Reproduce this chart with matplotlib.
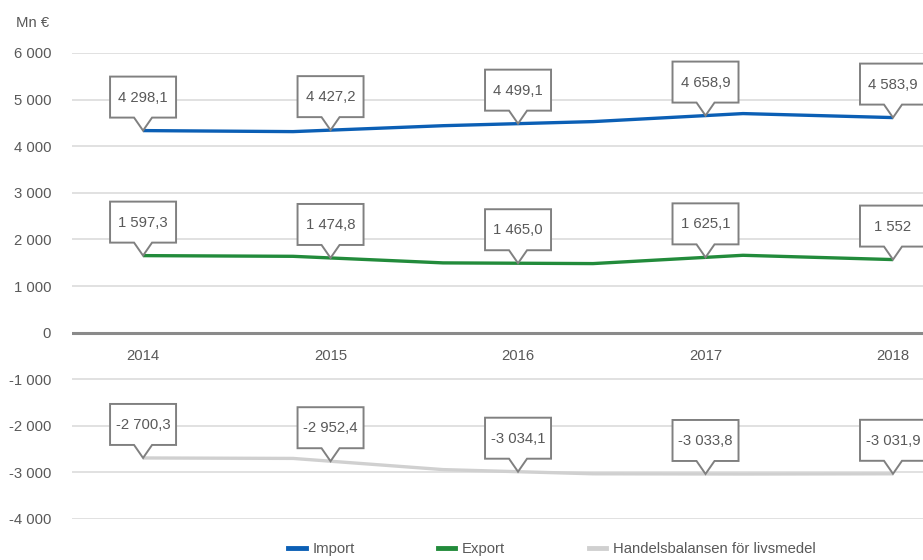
import matplotlib
matplotlib.use("Agg")
import matplotlib.pyplot as plt
from matplotlib.patches import Polygon
from matplotlib.lines import Line2D
from matplotlib.transforms import Affine2D, ScaledTranslation
import numpy as np

# category axis and callout values
years = ['2014', '2015', '2016', '2017', '2018']
import_text = ['4 298,1', '4 427,2', '4 499,1', '4 658,9', '4 583,9']
export_text = ['1 597,3', '1 474,8', '1 465,0', '1 625,1', '1 552']
balance_text = ['-2 700,3', '-2 952,4', '-3 034,1', '-3 033,8', '-3 031,9']

# line series as drawn (points do not sit on the years)
line_x = [0, 0.8, 1.6, 2.4, 3.2, 4.0]
import_line = [4335, 4313, 4440, 4528, 4700, 4614]
export_line = [1652, 1637, 1496, 1481, 1659, 1567]
balance_line = [-2690, -2700, -2940, -3030, -3035, -3030]

yticks = [-4000, -3000, -2000, -1000, 0, 1000, 2000, 3000, 4000, 5000, 6000]

c_import = '#0b5fb5'
c_export = '#228b3b'
c_balance = '#d0d0d0'
txt = '#595959'

plt.rcParams['font.family'] = ['Liberation Sans Narrow', 'Liberation Sans', 'DejaVu Sans']
plt.rcParams['font.size'] = 10.7


def fmt(v):
    s = '{:,}'.format(int(abs(v))).replace(',', ' ')
    return '-' + s if v < 0 else s


def callout(ax, x, y, label):
    # box with a small pointer, sized in pixels, tip on the data point
    verts = [(0, 0), (-9, 13), (-33, 13), (-33, 54), (33, 54), (33, 13), (9, 13)]
    tr = Affine2D() + ScaledTranslation(x, y, ax.transData)
    ax.add_patch(Polygon(verts, closed=True, transform=tr, facecolor='white',
                         edgecolor='#808080', lw=1.4, zorder=5, clip_on=False))
    ax.annotate(label, xy=(x, y), xytext=(0, 33), textcoords='offset pixels',
                ha='center', va='center', color=txt, zorder=6)


fig = plt.figure(figsize=(9.23, 5.6), dpi=100)
ax = fig.add_axes([72 / 923, 1 - 519 / 560, 1 - 72 / 923, (519 - 53) / 560])

ax.set_ylim(-4000, 6000)
ax.set_xlim(-0.379, 4.16)
ax.set_yticks(yticks)
ax.set_yticklabels([fmt(v) for v in yticks], color=txt)
ax.set_xticks([])
ax.tick_params(axis='y', length=0, pad=15)
ax.yaxis.grid(True, color='#d9d9d9', lw=1.1)
ax.set_axisbelow(True)
for s in ax.spines.values():
    s.set_visible(False)
ax.axhline(0, color='#8a8a8a', lw=2.2, zorder=1)

ax.plot(line_x, import_line, color=c_import, lw=2.4, zorder=3, solid_capstyle='butt')
ax.plot(line_x, export_line, color=c_export, lw=2.4, zorder=3, solid_capstyle='butt')
ax.plot(line_x, balance_line, color=c_balance, lw=2.4, zorder=3, solid_capstyle='butt')

cats = np.arange(len(years))
for i, yr in enumerate(years):
    ax.annotate(yr, xy=(i, 0), xytext=(0, -23), textcoords='offset pixels',
                ha='center', va='center', color=txt)

for series, labels in [(import_line, import_text), (export_line, export_text),
                       (balance_line, balance_text)]:
    tips = np.interp(cats, line_x, series)
    for i in cats:
        callout(ax, i, tips[i], labels[i])

fig.text(49 / 923, 1 - 23 / 560, 'Mn €', ha='right', va='center', color=txt)

handles = [Line2D([], [], color=c, lw=3.5) for c in (c_import, c_export, c_balance)]
fig.legend(handles, ['Import', 'Export', 'Handelsbalansen för livsmedel'],
           loc='center', bbox_to_anchor=(552 / 923, 1 - 549 / 560), ncol=3,
           frameon=False, handlelength=1.15, handletextpad=0.47, columnspacing=5.6,
           labelcolor=txt)

fig.savefig('out.png', dpi=100)
